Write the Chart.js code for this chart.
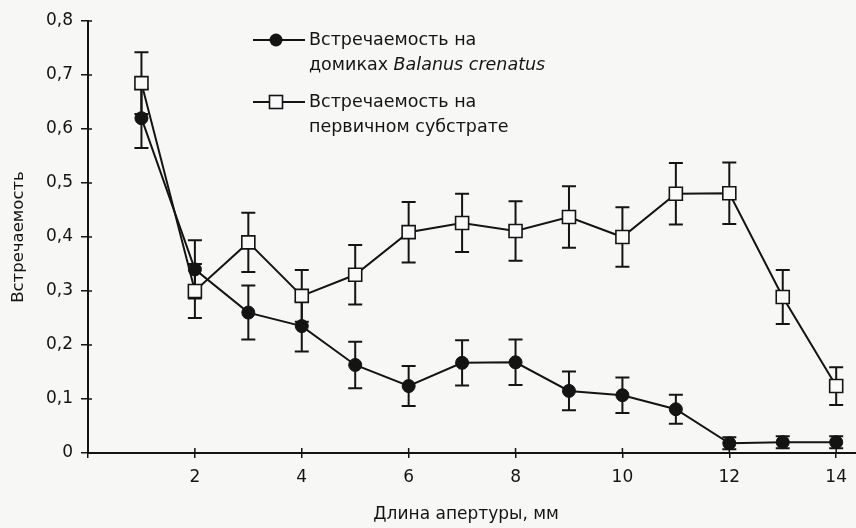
<!DOCTYPE html>
<html>
<head>
<meta charset="utf-8">
<script src="https://cdn.jsdelivr.net/npm/chart.js@4.4.1/dist/chart.umd.min.js"></script>
<style>
html,body{margin:0;padding:0;background:#f7f7f5;overflow:hidden;}
#chartApert{display:block;}
</style>
</head>
<body>
<canvas id="chartApert" width="856" height="528"></canvas>
<script>
// длина апертуры, мм
const apertureMm = [1,2,3,4,5,6,7,8,9,10,11,12,13,14]
// встречаемость на домиках Balanus crenatus
const shellValues = [0.62,0.34,0.26,0.235,0.163,0.124,0.167,0.168,0.115,0.107,0.081,0.018,0.02,0.02]
const shellErr    = [0.055,0.054,0.05,0.047,0.043,0.037,0.042,0.042,0.036,0.033,0.027,0.011,0.011,0.011]
// встречаемость на первичном субстрате
const substrValues = [0.685,0.30,0.39,0.291,0.33,0.409,0.426,0.411,0.437,0.40,0.48,0.481,0.289,0.124]
const substrErr    = [0.057,0.05,0.055,0.048,0.055,0.056,0.054,0.055,0.057,0.055,0.057,0.057,0.05,0.035]
const xTicks = [0,2,4,6,8,10,12,14]
const yTicks = [0,0.1,0.2,0.3,0.4,0.5,0.6,0.7,0.8]

const ink = '#141414'
const fontName = "'DejaVu Sans', Verdana, sans-serif"

const errorBarsPlugin = {
  id: 'errorBars',
  beforeDatasetsDraw(chart){
    const ctx = chart.ctx, xs = chart.scales.x, ys = chart.scales.y
    const draw = (vals, errs) => {
      vals.forEach((v,i) => {
        const px = xs.getPixelForValue(apertureMm[i])
        const top = ys.getPixelForValue(v + errs[i])
        const bot = ys.getPixelForValue(v - errs[i])
        ctx.beginPath()
        ctx.moveTo(px, top); ctx.lineTo(px, bot)
        ctx.moveTo(px-7, top); ctx.lineTo(px+7, top)
        ctx.moveTo(px-7, bot); ctx.lineTo(px+7, bot)
        ctx.stroke()
      })
    }
    ctx.save()
    ctx.strokeStyle = ink
    ctx.lineWidth = 2
    draw(shellValues, shellErr)
    draw(substrValues, substrErr)
    ctx.restore()
  }
}

const axisTicksPlugin = {
  id: 'axisTicks',
  beforeDraw(chart){
    const ctx = chart.ctx
    ctx.save()
    ctx.fillStyle = '#f7f7f5'
    ctx.fillRect(0,0,chart.width,chart.height)
    ctx.restore()
  },
  afterDraw(chart){
    const ctx = chart.ctx, xs = chart.scales.x, ys = chart.scales.y, a = chart.chartArea
    ctx.save()
    ctx.strokeStyle = ink
    ctx.lineWidth = 1.5
    ctx.beginPath()
    xTicks.forEach(v => { const p = xs.getPixelForValue(v); ctx.moveTo(p, a.bottom-5); ctx.lineTo(p, a.bottom) })
    yTicks.forEach(v => { const p = ys.getPixelForValue(v); ctx.moveTo(a.left, p); ctx.lineTo(a.left+4, p) })
    ctx.stroke()
    // ось X тянется до края рисунка
    ctx.lineWidth = 2
    ctx.beginPath(); ctx.moveTo(a.right - 1, a.bottom); ctx.lineTo(chart.width, a.bottom); ctx.stroke()

    // легенда
    const lx1 = 253, lx2 = 305, mx = 276
    ctx.lineWidth = 2
    ctx.beginPath(); ctx.moveTo(lx1, 40); ctx.lineTo(lx2, 40); ctx.moveTo(lx1, 102); ctx.lineTo(lx2, 102); ctx.stroke()
    ctx.fillStyle = ink
    ctx.beginPath(); ctx.arc(mx, 40, 6.5, 0, Math.PI*2); ctx.fill()
    ctx.fillStyle = '#fafafa'
    ctx.fillRect(mx-6.5, 95.5, 13, 13)
    ctx.lineWidth = 1.6
    ctx.strokeRect(mx-6.5, 95.5, 13, 13)

    ctx.fillStyle = ink
    ctx.textBaseline = 'middle'
    ctx.font = `17.5px ${fontName}`
    const tx = 309
    ctx.fillText('Встречаемость на', tx, 40)
    ctx.fillText('домиках ', tx, 65)
    const w = ctx.measureText('домиках ').width
    ctx.font = `italic 17.5px ${fontName}`
    ctx.fillText('Balanus crenatus', tx + w, 65)
    ctx.font = `17.5px ${fontName}`
    ctx.fillText('Встречаемость на', tx, 102)
    ctx.fillText('первичном субстрате', tx, 127)
    ctx.restore()
  }
}

function LoadApertChart(){
  chartApert = new Chart(
    document.getElementById('chartApert'),
    {
      type: 'line',
      data: {
        datasets: [
          {
            label: 'Встречаемость на домиках Balanus crenatus',
            data: apertureMm.map((x,i) => ({x: x, y: shellValues[i]})),
            borderColor: ink, borderWidth: 2,
            pointStyle: 'circle', pointRadius: 6.5,
            pointBackgroundColor: ink, pointBorderColor: ink, pointBorderWidth: 1
          },
          {
            label: 'Встречаемость на первичном субстрате',
            data: apertureMm.map((x,i) => ({x: x, y: substrValues[i]})),
            borderColor: ink, borderWidth: 2,
            pointStyle: 'rect', pointRadius: 9.2,
            pointBackgroundColor: '#fafafa', pointBorderColor: ink, pointBorderWidth: 1.6
          }
        ]
      },
      options: {
        animation: false,
        responsive: false,
        layout: {autoPadding: false, padding: {top: 21, right: 0, left: 0, bottom: 0}},
        plugins: {
          legend: {display: false},
          tooltip: {enabled: false}
        },
        scales: {
          x: {
            type: 'linear', min: 0, max: 14.15,
            afterBuildTicks: s => { s.ticks = xTicks.map(v => ({value: v})) },
            afterFit: s => { s.height = 75 },
            grid: {display: true, drawOnChartArea: false, drawTicks: true, tickLength: 5, color: ink, lineWidth: 1.5},
            border: {display: true, color: ink, width: 2},
            ticks: {color: ink, padding: 9, font: {family: fontName, size: 17},
              callback: v => v === 0 ? '' : String(v)},
            title: {display: true, text: 'Длина апертуры, мм', color: ink,
              font: {family: fontName, size: 17}, padding: {top: 0, bottom: 3}}
          },
          y: {
            min: 0, max: 0.8,
            afterBuildTicks: s => { s.ticks = yTicks.map(v => ({value: v})) },
            afterFit: s => { s.width = 88 },
            grid: {display: true, drawOnChartArea: false, drawTicks: true, tickLength: 7, color: ink, lineWidth: 1.5},
            border: {display: true, color: ink, width: 2},
            ticks: {color: ink, padding: 8, font: {family: fontName, size: 17},
              callback: v => v === 0 ? '0' : v.toFixed(1).replace('.', ',')},
            title: {display: true, text: 'Встречаемость', color: ink,
              font: {family: fontName, size: 16.5}, padding: {top: 9, bottom: 0}}
          }
        }
      },
      plugins: [errorBarsPlugin, axisTicksPlugin]
    }
  )
}
LoadApertChart()
</script>
</body>
</html>
